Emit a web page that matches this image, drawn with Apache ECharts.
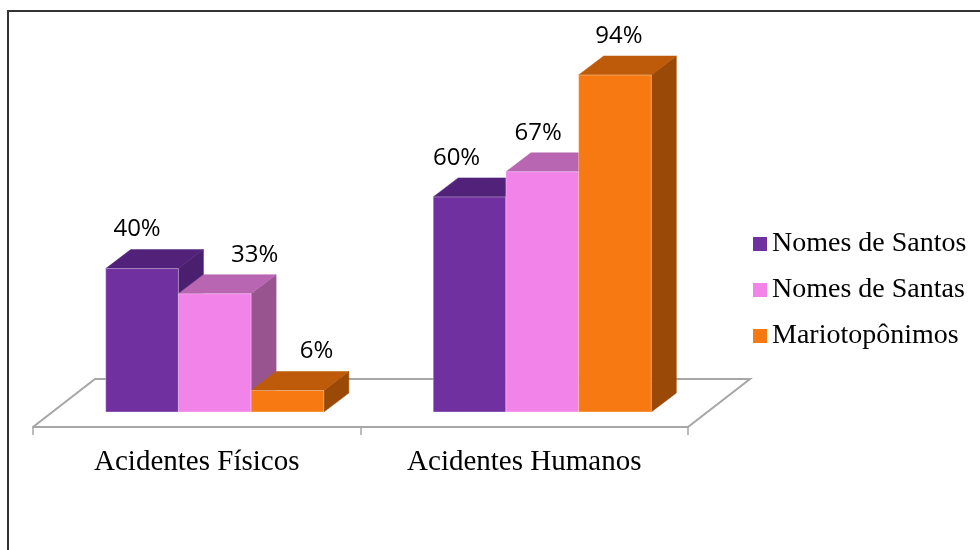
<!DOCTYPE html>
<html>
<head>
<meta charset="utf-8">
<script src="https://cdn.jsdelivr.net/npm/echarts@6/dist/echarts.min.js"></script>
<style>html,body{margin:0;padding:0;background:#fff}#c{width:980px;height:550px}</style>
</head>
<body>
<div id="c"></div>
<script>
// ---- data ----
const categories = ['Acidentes Físicos', 'Acidentes Humanos'];
const seriesNames = ['Nomes de Santos', 'Nomes de Santas', 'Mariotopônimos'];
const santos = [40, 60];
const santas = [33, 67];
const mario = [6, 94];
const seriesValues = [santos, santas, mario];

// ---- styling ----
const faceColors = [
  { front: '#7030A0', top: '#52227A', side: '#4A1F6F' },
  { front: '#F283E9', top: '#B866B2', side: '#98548F' },
  { front: '#F67A11', top: '#BD5B0B', side: '#9A4A06' }
];
// horizontal nudges of the value labels (layout only)
const labelDx = [[-5, -13], [40, -4], [29, 4]];
const DX = 25, DY = 19;
const PLOT_TOP = 53.5, BASE_Y = 412, FLOOR_Y = 427;
const yMin = -100 * (FLOOR_Y - BASE_Y) / (BASE_Y - PLOT_TOP);

const chart = echarts.init(document.getElementById('c'), null, { renderer: 'canvas' });

function floorItem(params, api) {
  const cs = params.coordSys;
  const fy = cs.y + cs.height;
  const by = fy - 48;
  const x = cs.x, w = cs.width;
  return {
    type: 'polyline',
    shape: { points: [[x, fy], [x + 62, by], [x + w + 62, by], [x + w, fy]] },
    style: { stroke: '#A6A6A6', lineWidth: 2, fill: null },
    silent: true
  };
}

function barItem(params, api) {
  const s = params.seriesIndex - 1;
  const ci = api.value(0);
  const v = api.value(1);
  const c = api.coord([ci, v]);
  const base = api.coord([ci, 0]);
  const band = api.size([1, 0])[0];
  const w = band * 0.222;
  const gc = c[0] + band * 0.055;
  const x0 = gc - 1.5 * w + s * w;
  const x1 = x0 + w;
  const yt = c[1], yb = base[1];
  const col = faceColors[s];
  return {
    type: 'group',
    children: [
      { type: 'polygon', shape: { points: [[x1, yb], [x1 + DX, yb - DY], [x1 + DX, yt - DY], [x1, yt]] },
        style: { fill: col.side, stroke: col.side, lineWidth: 0.5 } },
      { type: 'polygon', shape: { points: [[x0, yt], [x0 + DX, yt - DY], [x1 + DX, yt - DY], [x1, yt]] },
        style: { fill: col.top, stroke: col.top, lineWidth: 0.5 } },
      { type: 'rect', shape: { x: x0, y: yt, width: w, height: yb - yt },
        style: { fill: col.front, stroke: 'rgba(255,255,255,0.35)', lineWidth: 1 } },
      { type: 'text', x: (x0 + x1) / 2 + labelDx[s][ci], y: yt - 39,
        style: { text: v + '%', fill: '#000', font: '24px "Open Sans"', align: 'center', verticalAlign: 'middle' } }
    ]
  };
}

const series = [{
  type: 'custom', name: '_floor', renderItem: floorItem, data: [[0, 0]], silent: true, z: 1
}];
seriesNames.forEach((n, i) => {
  series.push({
    type: 'custom', name: n, renderItem: barItem,
    itemStyle: { color: faceColors[i].front },
    encode: { x: 0, y: 1 },
    data: categories.map((c, k) => [k, seriesValues[i][k]]),
    z: 2
  });
});

chart.setOption({
  animation: false,
  backgroundColor: '#fff',
  graphic: [{
    type: 'rect', shape: { x: 8, y: 11, width: 1000, height: 600 },
    style: { fill: null, stroke: '#333', lineWidth: 2 }, silent: true, z: 100
  }],
  grid: { left: 33, right: 292, top: PLOT_TOP, bottom: 550 - FLOOR_Y },
  legend: {
    data: seriesNames,
    orient: 'vertical',
    left: 748, top: 225,
    itemWidth: 14, itemHeight: 14, itemGap: 18,
    icon: 'rect',
    textStyle: { fontFamily: 'Liberation Serif', fontSize: 28, lineHeight: 28, color: '#000' }
  },
  xAxis: {
    type: 'category', data: categories,
    axisLine: { onZero: false, lineStyle: { color: '#A6A6A6', width: 2 } },
    axisTick: { show: true, length: 8, lineStyle: { color: '#A6A6A6', width: 1.5 } },
    axisLabel: { fontFamily: 'Liberation Serif', fontSize: 29, color: '#000', margin: 21 },
    splitLine: { show: false }
  },
  yAxis: { type: 'value', min: yMin, max: 100, show: false, splitLine: { show: false } },
  series: series
});
</script>
</body>
</html>
